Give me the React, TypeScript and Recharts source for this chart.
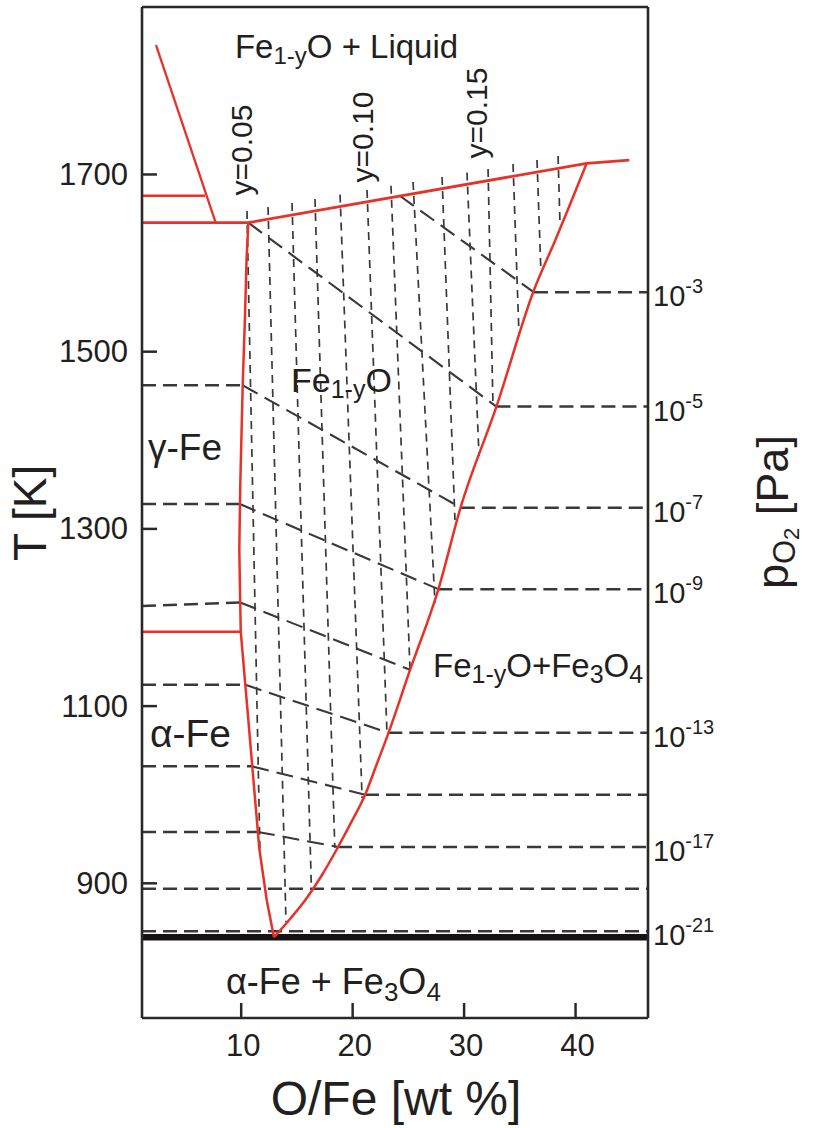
import React from 'react';
import { LineChart, Line, XAxis, YAxis, ReferenceLine, ReferenceDot } from 'recharts';

const FONT = '"Liberation Sans", Arial, Helvetica, sans-serif';
const INK = '#231f20';
const FRAME = '#2b2828';
const RED = '#e63228';
const DASH = '#3a3838';

const X_DOMAIN: [number, number] = [1.1, 46.5];
const T_DOMAIN: [number, number] = [748, 1889];
const X_TICKS = [10, 20, 30, 40];
const T_TICKS = [900, 1100, 1300, 1500, 1700];

// red phase boundaries (O/Fe wt%, T in K)
const FE_LIQ_X = [2.36, 7.71];
const FE_LIQ_T = [1846, 1645.6];
const DELTA_X = [1.1, 6.75];
const DELTA_T = [1676, 1676];
const PERITECTIC_X = [1.1, 10.64];
const PERITECTIC_T = [1645.6, 1645.6];
const ALPHA_GAMMA_X = [1.1, 9.96];
const ALPHA_GAMMA_T = [1184, 1184];
const WUSTITE_TOP_X = [10.64, 41.0, 44.82];
const WUSTITE_TOP_T = [1645.6, 1712.6, 1716.3];
const FE_SIDE_X = [10.64, 10.48, 10.34, 10.14, 9.92, 9.83, 9.96, 10.64, 11.62, 12.29, 12.94];
const FE_SIDE_T = [1645.6, 1603.5, 1539.5, 1464.3, 1351.5, 1276.2, 1184, 1084.4, 939.6, 881.2, 839.1];
const MAG_SIDE_X = [12.94, 14.38, 15.82, 17.25, 18.69, 19.94, 21.11, 22.1, 23.2, 25.15, 27.69, 29.7, 32.9, 36.27, 38.19, 41.0];
const MAG_SIDE_T = [839.1, 859.8, 882.3, 909.4, 941, 970.4, 999.7, 1032.4, 1069.3, 1140.8, 1231.8, 1324.7, 1437.9, 1569.6, 1626.1, 1712.6];
const EUTECTOID_T = 839;

// oxygen isobars, log10(pO2 / Pa)
const ISO_EXP = [-3, -5, -7, -9, -11, -13, -15, -17];
const ISO_METAL_T = [null, null, 1462, 1328, 1213, 1124, 1032, 958];
const ISO_FE_X = [24.25, 10.64, 10.14, 9.88, 9.91, 10.37, 10.99, 11.5];
const ISO_FE_T = [1675.7, 1645.6, 1462, 1328, 1217, 1124, 1032, 958];
const ISO_MAG_X = [36.27, 32.9, 29.7, 27.69, 25.15, 23.2, 21.11, 18.69];
const ISO_MAG_T = [1567, 1438, 1324, 1232, 1141, 1070, 1000, 941];
const ISO_MAG_LINE = [true, true, true, true, false, true, true, true];
const FULL_ISO_T = [894, 846];

const P_LABEL_EXP = [-3, -5, -7, -9, -13, -17, -21];
const P_LABEL_T = [1567, 1438, 1324, 1232, 1070, 941, 846];

// lines of constant y in Fe(1-y)O
const Y_VALUES = [0.05, 0.06, 0.07, 0.08, 0.09, 0.1, 0.11, 0.12, 0.13, 0.14, 0.15, 0.16, 0.17, 0.18];
const Y_TOP_X = [10.52, 12.41, 14.56, 16.62, 18.87, 21.29, 23.44, 25.42, 28.02, 30.26, 32.15, 34.39, 36.54, 38.43];
const Y_TOP_T = [1658.8, 1663.3, 1667.8, 1672.3, 1677.3, 1682.5, 1687.3, 1691.5, 1697.1, 1702.2, 1706.2, 1711.8, 1716.3, 1720.8];
const Y_BOT_X = [11.69, 14.02, 16.3, 18.4, 20.85, 23.08, 25.15, 27.39, 29.18, 31.34, 32.59, 34.93, 36.9, 38.61];
const Y_BOT_T = [932, 856, 893.6, 940, 996.3, 1069.7, 1140.8, 1216.4, 1310, 1382.3, 1439.8, 1517.7, 1587.7, 1641.8];

const pts = (xs: number[], ts: number[]) => xs.map((x, i) => ({ x, t: ts[i] }));

const seg = (
  key: string,
  data: { x: number; t: number }[],
  stroke: string,
  width: number,
  dash?: string,
  curve: 'linear' | 'monotone' = 'linear'
) => (
  <Line
    key={key}
    yAxisId="t"
    data={data}
    dataKey="t"
    type={curve}
    stroke={stroke}
    strokeWidth={width}
    strokeDasharray={dash}
    dot={false}
    activeDot={false}
    isAnimationActive={false}
    legendType="none"
  />
);

const note = (key: string, x: number, t: number, render: (cx: number, cy: number) => React.ReactElement) => (
  <ReferenceDot
    key={key}
    yAxisId="t"
    x={x}
    y={t}
    r={0}
    ifOverflow="visible"
    shape={(p: any) => render(p.cx, p.cy)}
  />
);

const LeftTick = ({ x, y, payload }: any) => (
  <g>
    <line x1={x} x2={x + 15} y1={y} y2={y} stroke={FRAME} strokeWidth={2.5} />
    <text x={x - 14} y={y} textAnchor="end" dominantBaseline="central" fontSize={31} fill={INK} fontFamily={FONT}>
      {payload.value}
    </text>
  </g>
);

const BottomTick = ({ x, y, payload }: any) => (
  <g>
    <line x1={x} x2={x} y1={y} y2={y - 15} stroke={FRAME} strokeWidth={2.5} />
    <text x={x + 2} y={y + 27} textAnchor="middle" dominantBaseline="central" fontSize={31} fill={INK} fontFamily={FONT}>
      {payload.value}
    </text>
  </g>
);

const RightTick = ({ x, y, payload }: any) => {
  const i = P_LABEL_T.findIndex((t) => Math.abs(t - payload.value) < 0.01);
  if (i < 0) return <g />;
  return (
    <text x={x + 5} y={y + 4} dominantBaseline="central" fontSize={29} fill={INK} fontFamily={FONT}>
      10
      <tspan dy={-10} fontSize={20}>{P_LABEL_EXP[i]}</tspan>
    </text>
  );
};

const Rot = ({ cx, cy, size, children }: any) => (
  <text
    x={cx}
    y={cy + size * 0.36}
    transform={`rotate(-90 ${cx} ${cy})`}
    textAnchor="middle"
    fontSize={size}
    fill={INK}
    fontFamily={FONT}
  >
    {children}
  </text>
);

export default function App() {
  const isoLines: React.ReactElement[] = [];
  ISO_EXP.forEach((e, i) => {
    const metalT = ISO_METAL_T[i];
    if (metalT !== null) {
      isoLines.push(seg(`m${e}`, pts([X_DOMAIN[0], ISO_FE_X[i]], [metalT, ISO_FE_T[i]]), DASH, 2.5, '14 7'));
    }
    isoLines.push(seg(`w${e}`, pts([ISO_FE_X[i], ISO_MAG_X[i]], [ISO_FE_T[i], ISO_MAG_T[i]]), DASH, 2.1, '17 8'));
    if (ISO_MAG_LINE[i]) {
      isoLines.push(seg(`g${e}`, pts([ISO_MAG_X[i], X_DOMAIN[1]], [ISO_MAG_T[i], ISO_MAG_T[i]]), DASH, 2.5, '14 7'));
    }
  });
  FULL_ISO_T.forEach((t, i) => {
    isoLines.push(seg(`f${i}`, pts([X_DOMAIN[0], X_DOMAIN[1]], [t, t]), DASH, 2.5, '14 7'));
  });

  const yLines = Y_VALUES.map((y, i) =>
    seg(`y${y}`, pts([Y_TOP_X[i], Y_BOT_X[i]], [Y_TOP_T[i], Y_BOT_T[i]]), DASH, 1.7, '8 6')
  );

  return (
    <div style={{ position: 'absolute', left: 0, top: 0, width: 813, height: 1128, background: '#fff' }}>
      <LineChart width={813} height={1128} margin={{ top: 7, right: 0, bottom: 0, left: 0 }}>
        <XAxis
          type="number"
          dataKey="x"
          domain={X_DOMAIN}
          allowDataOverflow
          ticks={X_TICKS}
          interval={0}
          height={110}
          tickSize={0}
          tickMargin={0}
          tickLine={false}
          axisLine={{ stroke: FRAME, strokeWidth: 2.6 }}
          tick={(p: any) => <BottomTick {...p} />}
        />
        <YAxis
          yAxisId="t"
          type="number"
          domain={T_DOMAIN}
          allowDataOverflow
          ticks={T_TICKS}
          interval={0}
          width={142}
          tickSize={0}
          tickMargin={0}
          tickLine={false}
          axisLine={{ stroke: FRAME, strokeWidth: 2.6 }}
          tick={(p: any) => <LeftTick {...p} />}
        />
        <YAxis
          yAxisId="p"
          orientation="right"
          type="number"
          domain={T_DOMAIN}
          allowDataOverflow
          ticks={P_LABEL_T}
          interval={0}
          width={165}
          tickSize={0}
          tickMargin={0}
          tickLine={false}
          axisLine={{ stroke: FRAME, strokeWidth: 2.6 }}
          tick={(p: any) => <RightTick {...p} />}
        />
        <ReferenceLine yAxisId="t" y={T_DOMAIN[1]} stroke={FRAME} strokeWidth={2.6} ifOverflow="visible" />

        {yLines}
        {isoLines}

        {seg('eut', pts([X_DOMAIN[0], X_DOMAIN[1]], [EUTECTOID_T, EUTECTOID_T]), '#151313', 6.5)}
        {seg('feliq', pts(FE_LIQ_X, FE_LIQ_T), RED, 2.3)}
        {seg('delta', pts(DELTA_X, DELTA_T), RED, 2.5)}
        {seg('peri', pts(PERITECTIC_X, PERITECTIC_T), RED, 2.7)}
        {seg('ag', pts(ALPHA_GAMMA_X, ALPHA_GAMMA_T), RED, 2.5)}
        {seg('top', pts(WUSTITE_TOP_X, WUSTITE_TOP_T), RED, 2.8)}
        {seg('feside', pts(FE_SIDE_X, FE_SIDE_T), RED, 2.5)}
        {seg('magside', pts(MAG_SIDE_X, MAG_SIDE_T), RED, 2.5, undefined, 'monotone')}

        {note('liq', 9.44, 1831.4, (cx, cy) => (
          <text x={cx} y={cy} fontSize={33} fill={INK} fontFamily={FONT}>
            Fe<tspan dy={6} fontSize={24}>1-y</tspan>
            <tspan dy={-6}>O + Liquid</tspan>
          </text>
        ))}
        {note('gam', 1.64, 1377.8, (cx, cy) => (
          <text x={cx} y={cy} fontSize={37} fill={INK} fontFamily={FONT}>γ-Fe</text>
        ))}
        {note('alp', 1.82, 1053.9, (cx, cy) => (
          <text x={cx} y={cy} fontSize={39} fill={INK} fontFamily={FONT}>α-Fe</text>
        ))}
        {note('wus', 14.47, 1454.5, (cx, cy) => (
          <text x={cx} y={cy} fontSize={34} fill={INK} fontFamily={FONT}>
            Fe<tspan dy={6} fontSize={25}>1-y</tspan>
            <tspan dy={-6}>O</tspan>
          </text>
        ))}
        {note('wm', 27.21, 1132.9, (cx, cy) => (
          <text x={cx} y={cy} fontSize={33} fill={INK} fontFamily={FONT}>
            Fe<tspan dy={6} fontSize={25}>1-y</tspan>
            <tspan dy={-6}>O+Fe</tspan>
            <tspan dy={6} fontSize={25}>3</tspan>
            <tspan dy={-6}>O</tspan>
            <tspan dy={6} fontSize={25}>4</tspan>
          </text>
        ))}
        {note('am', 8.64, 775.2, (cx, cy) => (
          <text x={cx} y={cy} fontSize={36} fill={INK} fontFamily={FONT}>
            α-Fe + Fe<tspan dy={7} fontSize={26}>3</tspan>
            <tspan dy={-7}>O</tspan>
            <tspan dy={7} fontSize={26}>4</tspan>
          </text>
        ))}
        {note('y05', 9.98, 1727.6, (cx, cy) => <Rot cx={cx} cy={cy} size={30}>y=0.05</Rot>)}
        {note('y10', 20.84, 1742.3, (cx, cy) => <Rot cx={cx} cy={cy} size={30}>y=0.10</Rot>)}
        {note('y15', 31.07, 1769.4, (cx, cy) => <Rot cx={cx} cy={cy} size={30}>y=0.15</Rot>)}

        {note('tk', -9.04, 1318, (cx, cy) => <Rot cx={cx} cy={cy} size={46}>T [K]</Rot>)}
        {note('po', 57.6, 1319, (cx, cy) => (
          <Rot cx={cx} cy={cy} size={45}>
            p<tspan dy={7} fontSize={31}>O</tspan>
            <tspan dy={4} fontSize={22}>2</tspan>
            <tspan dy={-11}> [Pa]</tspan>
          </Rot>
        ))}
        {note('xt', 23.89, 638.6, (cx, cy) => (
          <text x={cx} y={cy} textAnchor="middle" fontSize={48} fill={INK} fontFamily={FONT}>O/Fe [wt %]</text>
        ))}
      </LineChart>
    </div>
  );
}
